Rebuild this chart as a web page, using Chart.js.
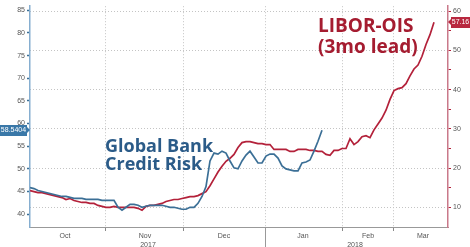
<!DOCTYPE html>
<html>
<head>
<meta charset="utf-8">
<script src="https://cdn.jsdelivr.net/npm/chart.js@4"></script>
<style>
  html, body { margin: 0; padding: 0; background: #fff; }
  canvas { display: block; }
</style>
</head>
<body>
<canvas id="chart" width="470" height="247"></canvas>
<script>
// Global bank credit risk (left axis), one sample per step
var bankRisk = [45.87, 45.65, 45.22, 45.0, 44.78, 44.57, 44.35, 44.13, 43.91, 43.91,
    43.7, 43.48, 43.48, 43.48, 43.26, 43.26, 43.26, 43.26, 43.04, 43.04,
    43.04, 43.04, 41.52, 40.87, 41.52, 42.17, 42.17, 41.96, 41.52, 41.74,
    41.96, 41.96, 41.96, 41.96, 41.74, 41.52, 41.52, 41.3, 41.09, 41.09,
    41.52, 41.52, 42.39, 43.91, 46.09, 51.74, 53.48, 53.26, 53.91, 53.48,
    51.74, 50.22, 50.0, 51.74, 53.04, 53.91, 52.61, 51.3, 51.3, 52.83,
    53.26, 53.26, 52.39, 50.65, 50.0, 49.78, 49.57, 49.57, 51.3, 51.52,
    51.96, 53.91, 56.09, 58.54];

// LIBOR-OIS, 3 month lead (right axis)
var liborOis = [14.25, 14.0, 13.75, 13.75, 13.5, 13.25, 13.0, 12.75, 12.5, 12.0,
    12.25, 11.75, 11.5, 11.25, 11.25, 11.0, 11.0, 10.5, 10.25, 10.0,
    10.0, 10.25, 10.0, 10.0, 10.0, 10.0, 10.0, 9.75, 9.25, 10.25,
    10.5, 10.5, 10.75, 11.0, 11.5, 11.75, 12.0, 12.0, 12.25, 12.5,
    12.75, 12.75, 13.0, 13.5, 14.0, 15.5, 17.25, 19.0, 20.5, 21.75,
    22.5, 23.5, 25.25, 26.5, 26.75, 26.75, 26.5, 26.25, 26.25, 26.0,
    26.0, 24.75, 24.75, 24.75, 24.75, 24.25, 24.25, 24.75, 24.75, 24.75,
    24.5, 24.5, 24.25, 24.25, 23.5, 23.25, 24.5, 24.5, 25.0, 25.0,
    27.5, 26.0, 26.75, 28.0, 28.25, 27.75, 29.75, 31.25, 32.75, 34.75,
    37.5, 39.75, 40.25, 40.5, 41.5, 43.5, 45.25, 46.25, 48.5, 51.5,
    54.0, 57.16];

// x axis: month boundaries and label positions (in sample steps)
var monthEdges = [18.75, 38.25, 58.75, 78, 90.75];
var monthCenters = [8.75, 28.75, 48.5, 68.25, 84.5, 98.25];
var monthLabels = ['Oct', 'Nov', 'Dec', 'Jan', 'Feb', 'Mar'];
var yearCenters = [29.5, 81.25];
var yearLabels = ['2017', '2018'];
var yearBreak = 58.75;

var leftTicks = [40, 45, 50, 55, 60, 65, 70, 75, 80, 85];
var rightTicks = [10, 15, 20, 25, 30, 35, 40, 45, 50, 55, 60];

var blue = '#3b6f96';
var red = '#b3213a';
var tickFont = { family: 'Liberation Sans', size: 7 };

function toPoints(arr) {
    return arr.map(function(v, i) { return { x: i, y: v }; });
}

// annotations + last value tags
var overlay = {
    id: 'overlay',
    afterDraw: function(chart) {
        var ctx = chart.ctx;
        var area = chart.chartArea;
        var x = chart.scales.x;

        // year separator
        var bx = Math.round(x.getPixelForValue(yearBreak)) + 0.5;
        ctx.save();
        ctx.strokeStyle = '#999';
        ctx.lineWidth = 1;
        ctx.beginPath();
        ctx.moveTo(bx, area.bottom);
        ctx.lineTo(bx, chart.height);
        ctx.stroke();

        // text labels
        ctx.font = 'bold 18px "Open Sans"';
        ctx.fillStyle = '#2b5b88';
        ctx.textAlign = 'left';
        ctx.textBaseline = 'alphabetic';
        ctx.fillText('Global Bank', 105, 152);
        ctx.fillText('Credit Risk', 105, 170);

        ctx.font = 'bold 19px "Open Sans"';
        ctx.fillStyle = '#a51c30';
        ctx.fillText('LIBOR-OIS', 318, 32);
        ctx.fillText('(3mo lead)', 318, 53);

        // value tags
        function tag(val, text, color, x0, x1, arrowX) {
            ctx.fillStyle = color;
            var yy = Math.round(val);
            ctx.fillRect(x0, yy - 5, x1 - x0, 11);
            ctx.beginPath();
            if (arrowX > x1) {
                ctx.moveTo(x1, yy - 3); ctx.lineTo(arrowX, yy); ctx.lineTo(x1, yy + 3);
            } else {
                ctx.moveTo(x0, yy - 3); ctx.lineTo(arrowX, yy); ctx.lineTo(x0, yy + 3);
            }
            ctx.fill();
            ctx.fillStyle = '#fff';
            ctx.font = '7px "Liberation Sans"';
            ctx.textAlign = 'center';
            ctx.textBaseline = 'middle';
            ctx.fillText(text, (x0 + x1) / 2, yy + 0.5);
        }
        tag(chart.scales.y.getPixelForValue(bankRisk[bankRisk.length - 1]), '58.5404', '#3a78a8', 0, 27, 30);
        tag(chart.scales.y2.getPixelForValue(liborOis[liborOis.length - 1]), '57.16', '#b8283f', 451, 470, 448);
        ctx.restore();
    }
};

var chart = new Chart(document.getElementById('chart').getContext('2d'), {
    type: 'line',
    data: {
        datasets: [{
            label: 'Global Bank Credit Risk',
            data: toPoints(bankRisk),
            borderColor: blue,
            borderWidth: 1.7,
            pointRadius: 0,
            yAxisID: 'y'
        }, {
            label: 'LIBOR-OIS (3mo lead)',
            data: toPoints(liborOis),
            borderColor: red,
            borderWidth: 1.7,
            pointRadius: 0,
            yAxisID: 'y2'
        }]
    },
    options: {
        responsive: false,
        animation: false,
        layout: { padding: { top: 2, left: 0, right: 0, bottom: 0 } },
        plugins: {
            legend: { display: false },
            tooltip: { enabled: false }
        },
        scales: {
            x: {
                type: 'linear',
                min: 0,
                max: 104.5,
                afterFit: function(s) { s.height = 20; },
                afterBuildTicks: function(s) {
                    s.ticks = monthEdges.concat(monthCenters, yearCenters).map(function(v) { return { value: v }; });
                },
                ticks: {
                    autoSkip: false,
                    maxRotation: 0,
                    padding: 1,
                    color: '#555',
                    font: tickFont,
                    callback: function(v) {
                        var m = monthCenters.indexOf(v);
                        if (m >= 0) return monthLabels[m];
                        var y = yearCenters.indexOf(v);
                        if (y >= 0) return ['', yearLabels[y]];
                        return '';
                    }
                },
                grid: {
                    tickLength: 4,
                    color: function(c) { return c.tick && monthEdges.indexOf(c.tick.value) >= 0 ? '#c4c4c4' : 'transparent'; },
                    tickColor: function(c) { return c.tick && monthEdges.indexOf(c.tick.value) >= 0 ? '#888' : 'transparent'; }
                },
                border: { color: '#999', dash: [1, 2] }
            },
            y: {
                position: 'left',
                min: 37.17,
                max: 85.9,
                afterFit: function(s) { s.width = 30; },
                afterBuildTicks: function(s) {
                    s.ticks = leftTicks.map(function(v) { return { value: v }; });
                },
                ticks: { color: '#555', font: tickFont, padding: 2 },
                grid: { drawOnChartArea: false, tickLength: 3, tickColor: '#3b6f96', tickWidth: 1.5 },
                border: { color: '#86aed0', width: 1.5 }
            },
            y2: {
                position: 'right',
                min: 5,
                max: 61.25,
                afterFit: function(s) { s.width = 22; },
                afterBuildTicks: function(s) {
                    s.ticks = rightTicks.map(function(v) { return { value: v }; });
                },
                ticks: {
                    color: '#555',
                    font: tickFont,
                    padding: 2,
                    callback: function(v) { return v % 10 === 0 ? v : ''; }
                },
                grid: {
                    tickLength: 3,
                    color: function(c) { return c.tick && c.tick.value % 10 === 0 ? '#c4c4c4' : 'transparent'; },
                    tickColor: '#b3213a',
                    tickWidth: 1
                },
                border: { color: '#c9798a', width: 1.5, dash: [1, 2] }
            }
        }
    },
    plugins: [overlay]
});
</script>
</body>
</html>
